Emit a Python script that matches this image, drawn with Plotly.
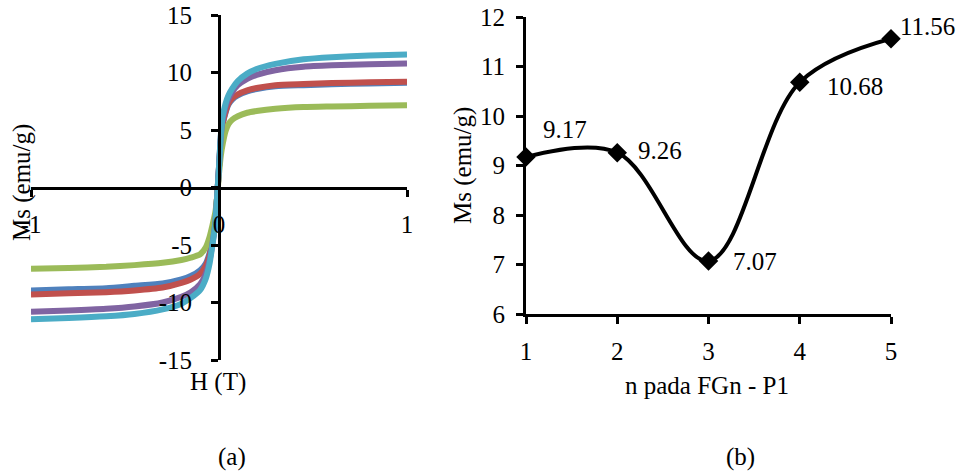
import plotly.graph_objects as go

# ---------------- data ----------------
# Panel (a): hysteresis curves, H (T) vs Ms (emu/g)
H = [-1, -0.8, -0.6, -0.45, -0.3, -0.2, -0.15, -0.1, -0.07, -0.05, -0.035, -0.02, -0.01,
     0, 0.01, 0.02, 0.035, 0.05, 0.07, 0.1, 0.15, 0.2, 0.3, 0.45, 0.6, 0.8, 1]

M_blue = [-8.95, -8.85, -8.75, -8.55, -8.35, -8.0, -7.7, -7.2, -6.6, -5.7, -4.6, -2.9, -0.8,
          1.7, 4.1, 5.5, 6.5, 7.2, 7.65, 8.0, 8.35, 8.55, 8.8, 8.9, 8.98, 9.05, 9.1]
M_red = [-9.3, -9.2, -9.1, -8.95, -8.7, -8.3, -8.0, -7.5, -6.8, -5.9, -4.7, -3.0, -0.8,
         1.7, 4.2, 5.6, 6.6, 7.3, 7.75, 8.1, 8.45, 8.65, 8.9, 9.0, 9.08, 9.15, 9.2]
M_green = [-7.07, -7.0, -6.9, -6.75, -6.55, -6.3, -6.1, -5.8, -5.2, -4.3, -3.3, -2.2, -0.8,
           1.2, 2.8, 3.8, 4.9, 5.5, 5.9, 6.2, 6.5, 6.65, 6.85, 7.0, 7.05, 7.1, 7.15]
M_purple = [-10.8, -10.7, -10.55, -10.35, -10.0, -9.5, -9.1, -8.4, -7.5, -6.3, -4.9, -3.1, -0.8,
            1.8, 4.5, 6.0, 7.0, 7.7, 8.3, 8.9, 9.45, 9.8, 10.2, 10.5, 10.62, 10.72, 10.78]
M_cyan = [-11.45, -11.35, -11.2, -11.0, -10.6, -10.1, -9.6, -8.9, -7.9, -6.6, -5.0, -3.2, -0.8,
          1.8, 4.6, 6.2, 7.3, 8.0, 8.6, 9.25, 9.9, 10.3, 10.75, 11.15, 11.33, 11.47, 11.56]

series_a = [M_blue, M_red, M_green, M_purple, M_cyan]
colors_a = ["#4F81BD", "#C0504D", "#9BBB59", "#8064A2", "#4BACC6"]

ticks_a_x = [-1, 0, 1]
ticks_a_y = [-15, -10, -5, 0, 5, 10, 15]

# Panel (b): saturation magnetisation vs n
n_vals = [1, 2, 3, 4, 5]
ms_vals = [9.17, 9.26, 7.07, 10.68, 11.56]
label_shift = [(39, 28), (43, 2), (46, 0), (55, -4), (36, 12)]

FONT = "Liberation Serif"
FS = 25

fig = go.Figure()

for m, c in zip(series_a, colors_a):
    fig.add_trace(go.Scatter(x=H, y=m, mode="lines", line=dict(color=c, width=6, shape="spline", smoothing=0.6),
                             xaxis="x", yaxis="y", showlegend=False, hoverinfo="skip"))

fig.add_trace(go.Scatter(x=n_vals, y=ms_vals, mode="lines+markers",
                         line=dict(color="black", width=4, shape="spline", smoothing=1),
                         marker=dict(symbol="diamond", size=15, color="black"),
                         cliponaxis=False, xaxis="x2", yaxis="y2", showlegend=False))

dom_ax = [31 / 970, 407 / 970]
dom_ay = [1 - 360 / 472, 1 - 15 / 472]
dom_bx = [526 / 970, 891 / 970]
dom_by = [1 - 314 / 472, 1 - 17 / 472]

axis_common = dict(showline=True, linecolor="black", linewidth=3, ticks="outside", ticklen=7,
                   tickwidth=3, tickcolor="black", showgrid=False, zeroline=False, automargin=False,
                   tickfont=dict(family=FONT, size=FS, color="black"))

fig.update_layout(
    width=970, height=472, margin=dict(l=0, r=0, t=0, b=0, autoexpand=False),
    paper_bgcolor="white", plot_bgcolor="rgba(0,0,0,0)",
    font=dict(family=FONT, size=FS, color="black"),
    xaxis=dict(domain=dom_ax, range=[-1, 1], anchor="free", position=(dom_ay[0] + dom_ay[1]) / 2,
               tickvals=ticks_a_x, ticktext=[str(v) for v in ticks_a_x], ticklabelstandoff=6, **axis_common),
    yaxis=dict(domain=dom_ay, range=[-15, 15], anchor="free", position=(dom_ax[0] + dom_ax[1]) / 2,
               tickvals=ticks_a_y, ticktext=[str(v) for v in ticks_a_y], ticklabelstandoff=14, **axis_common),
    xaxis2=dict(domain=dom_bx, range=[1, 5], anchor="y2", dtick=1, ticklabelstandoff=6, **axis_common),
    yaxis2=dict(domain=dom_by, range=[6, 12], anchor="x2", dtick=1, ticklabelstandoff=6, **axis_common),
)

ann = []
for x, y, (dx, dy) in zip(n_vals, ms_vals, label_shift):
    ann.append(dict(x=x, y=y, xref="x2", yref="y2", text=f"{y:.2f}", showarrow=False,
                    xshift=dx, yshift=dy, font=dict(family=FONT, size=FS, color="black")))

def paper_text(txt, px, py, angle=0):
    return dict(x=px / 970, y=1 - py / 472, xref="paper", yref="paper", text=txt, showarrow=False,
                textangle=angle, xanchor="center", yanchor="middle",
                font=dict(family=FONT, size=FS, color="black"))

ann += [
    paper_text("Ms (emu/g)", 22, 183, -90),
    paper_text("H (T)", 218, 382),
    paper_text("(a)", 232, 457),
    paper_text("Ms (emu/g)", 463, 166, -90),
    paper_text("n pada FGn - P1", 707, 385),
    paper_text("(b)", 740, 457),
]
fig.update_layout(annotations=ann)

fig.write_html("out.html")
